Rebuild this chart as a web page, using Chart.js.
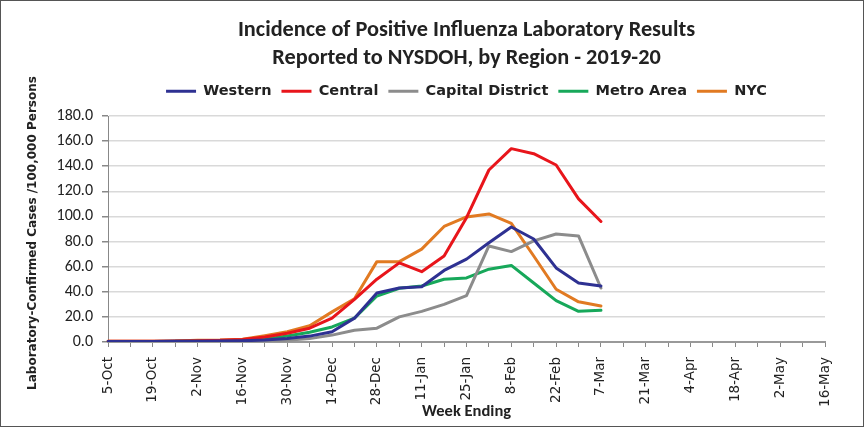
<!DOCTYPE html>
<html>
<head>
<meta charset="utf-8">
<script src="https://cdn.jsdelivr.net/npm/chart.js@4.4.1/dist/chart.umd.min.js"></script>
<style>
  html, body { margin: 0; padding: 0; background: #fff; }
  #wrap { position: relative; width: 864px; height: 427px; box-sizing: border-box; border: 1px solid #555; }
  canvas { display: block; }
</style>
</head>
<body>
<div id="wrap"><canvas id="c" width="862" height="425"></canvas></div>
<script>
const weekLabels = ['5-Oct','12-Oct','19-Oct','26-Oct','2-Nov','9-Nov','16-Nov','23-Nov','30-Nov',
  '7-Dec','14-Dec','21-Dec','28-Dec','4-Jan','11-Jan','18-Jan','25-Jan','1-Feb','8-Feb','15-Feb',
  '22-Feb','29-Feb','7-Mar','14-Mar','21-Mar','28-Mar','4-Apr','11-Apr','18-Apr','25-Apr','2-May','9-May','16-May'];

const western  = [0.3,0.3,0.4,0.5,0.6,0.8,1.0,1.5,2.7,4.7,8.2,19,39,43,44,57,66,79,91.6,82,59,47,44.6];
const central  = [0.5,0.5,0.6,0.8,1.0,1.3,2.0,4.0,7.0,11.0,19,34,50,63,56,68.5,99,137,154,150,141,114,96];
const capital  = [0.2,0.2,0.3,0.3,0.4,0.5,0.7,1.0,1.4,2.7,5.5,9.3,11,20,24.4,30,37,76.5,72,80.5,86,84.5,43];
const metro    = [0.3,0.3,0.4,0.5,0.7,0.9,1.3,2.2,4.7,7.7,12,19,36.6,42.8,44.6,50,51,58,61,47,33,24.4,25.2];
const nyc      = [0.5,0.5,0.6,0.8,1.4,1.6,2.2,5.0,8.2,13.0,24,34.5,64,64,74,92,99.6,102,94.5,68.5,42,32,28.7];

const seriesNames = ['Western','Central','Capital District','Metro Area','NYC'];
const seriesColors = ['#2E3192','#E8151B','#8C8C8C','#17A85A','#E17A22'];
const seriesData = [western, central, capital, metro, nyc];

const titleLines = ['Incidence of Positive Influenza Laboratory Results', 'Reported to NYSDOH, by Region - 2019-20'];
const xTitle = 'Week Ending';
const yTitle = 'Laboratory-Confirmed Cases /100,000 Persons';

const FONT = "Carlito, 'Liberation Sans Narrow', 'Open Sans', sans-serif";
const WIDE = "'DejaVu Sans', 'Liberation Sans', sans-serif";

const datasets = seriesNames.map((n, i) => ({
  label: n,
  data: seriesData[i],
  borderColor: seriesColors[i],
  backgroundColor: seriesColors[i],
  borderWidth: 3,
  borderJoinStyle: 'round',
  borderCapStyle: 'round',
  pointRadius: 0,
  pointStyle: 'line',
  tension: 0,
  fill: false
}));

const legendFix = {
  id: 'legendFix',
  beforeUpdate(chart) {
    const lg = chart.legend;
    if (lg && !lg._patched) {
      const orig = lg.fit.bind(lg);
      lg.fit = function() { orig(); this.height = 42; };
      lg._patched = true;
    }
  }
};

// y-axis title drawn without the width clamp Chart.js applies to vertical titles
const yTitlePlugin = {
  id: 'yTitlePlugin',
  afterDraw(chart) {
    const ctx = chart.ctx;
    const ca = chart.chartArea;
    ctx.save();
    ctx.translate(32, (ca.top + ca.bottom) / 2 + 4);
    ctx.rotate(-Math.PI / 2);
    ctx.font = "bold 12px " + WIDE;
    ctx.fillStyle = '#222';
    ctx.textAlign = 'center';
    ctx.textBaseline = 'middle';
    ctx.fillText(yTitle, 0, 0);
    ctx.restore();
  }
};

new Chart(document.getElementById('c'), {
  type: 'line',
  data: { labels: weekLabels, datasets },
  plugins: [legendFix, yTitlePlugin],
  options: {
    responsive: false,
    animation: false,
    layout: { padding: { left: 8, right: 38, top: 0, bottom: 4 } },
    plugins: {
      title: {
        display: true,
        fullSize: false,
        text: titleLines,
        color: '#222',
        font: { family: FONT, size: 22.3, weight: 'bold', lineHeight: '28px' },
        padding: { top: 15, bottom: 2 }
      },
      legend: {
        display: true,
        fullSize: false,
        labels: {
          usePointStyle: true,
          pointStyleWidth: 30,
          boxHeight: 3,
          color: '#222',
          padding: 10,
          font: { family: WIDE, size: 14.5, weight: 'bold' }
        }
      },
      tooltip: { enabled: false }
    },
    scales: {
      x: {
        afterFit: s => { s.height = 80; },
        ticks: {
          autoSkip: false,
          maxRotation: 90,
          minRotation: 90,
          color: '#222',
          padding: 10,
          font: { family: WIDE, size: 13.5 },
          callback: function(v, i) { return i % 2 === 0 ? weekLabels[i] : ''; }
        },
        grid: { drawOnChartArea: false, drawTicks: true, tickLength: 5, color: '#888' },
        border: { display: true, color: '#999', width: 2 },
        title: {
          display: true,
          text: xTitle,
          color: '#222',
          font: { family: FONT, size: 16.5, weight: 'bold' },
          padding: { top: 0, bottom: 0 }
        }
      },
      y: {
        min: 0,
        max: 180,
        afterFit: s => { s.width = 99; },
        ticks: {
          stepSize: 20,
          color: '#222',
          padding: 9,
          font: { family: FONT, size: 16 },
          callback: v => v.toFixed(1)
        },
        grid: { color: '#d9d9d9', lineWidth: 1.5, tickLength: 6, tickColor: '#888', drawTicks: true },
        border: { display: true, color: '#888', width: 1 },
        title: { display: false }
      }
    }
  }
});
</script>
</body>
</html>
